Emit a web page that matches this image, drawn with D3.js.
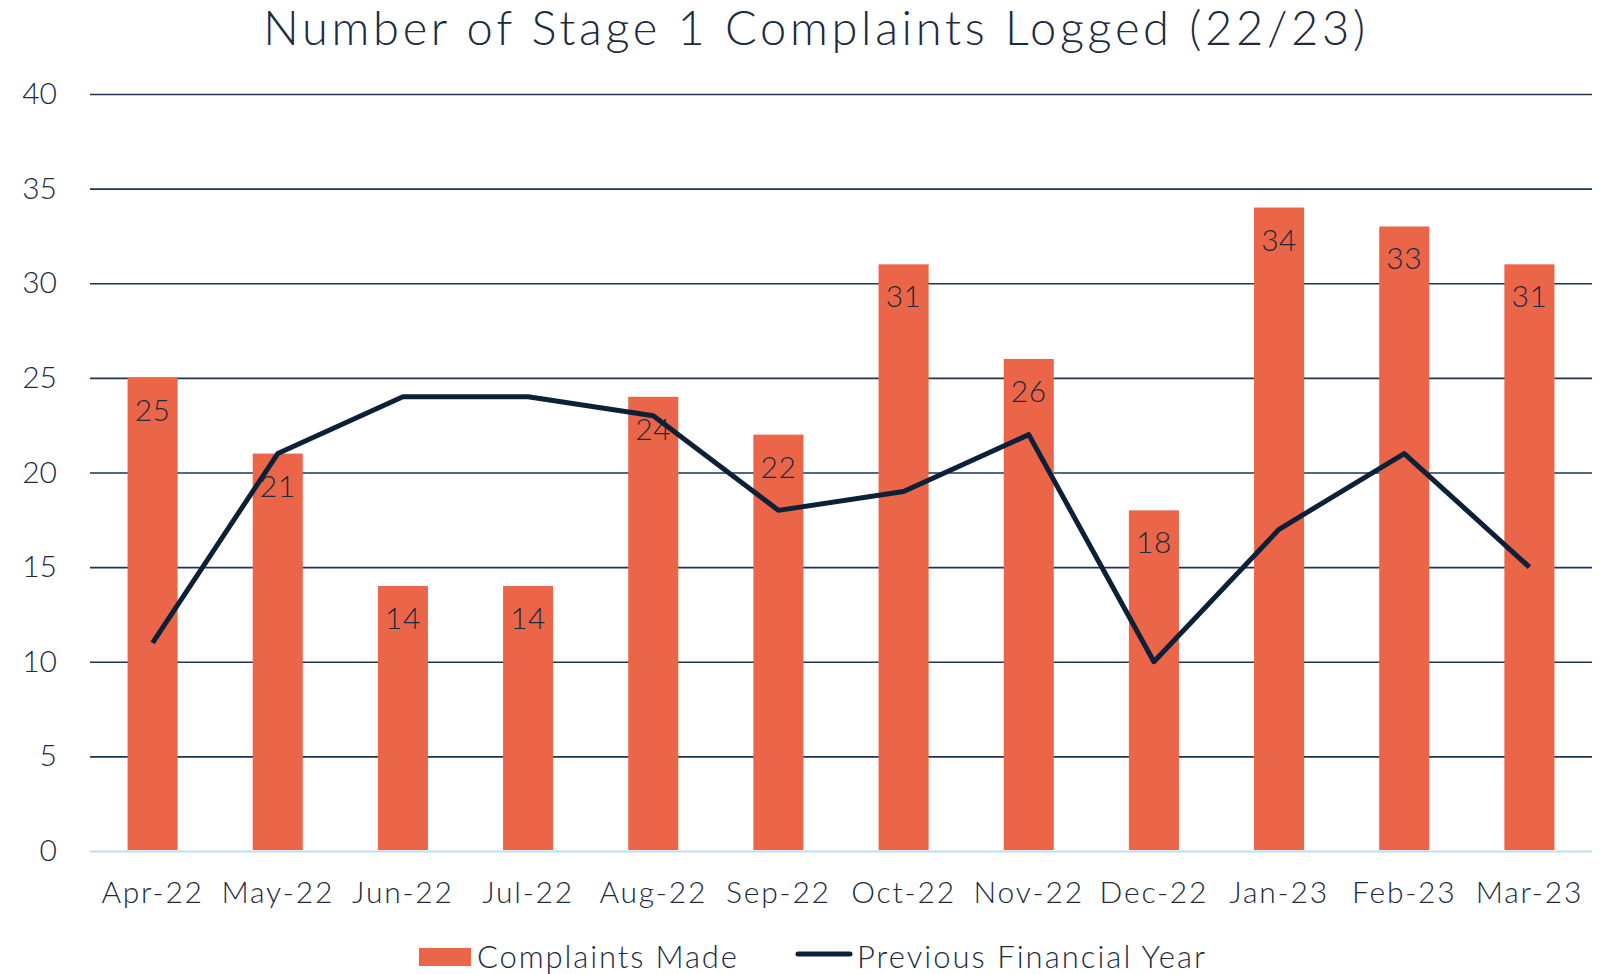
<!DOCTYPE html>
<html>
<head>
<meta charset="utf-8">
<script src="https://cdn.jsdelivr.net/npm/d3@7"></script>
<style>
  body { margin: 0; background: #fff; }
  text { font-family: Lato, "Noto Sans", sans-serif; font-weight: 300; fill: #1b2b40; }
</style>
</head>
<body>
<div id="chart"></div>
<script>
// chart data
const months = ["Apr-22", "May-22", "Jun-22", "Jul-22", "Aug-22", "Sep-22",
                "Oct-22", "Nov-22", "Dec-22", "Jan-23", "Feb-23", "Mar-23"];
const complaintsMade = [25, 21, 14, 14, 24, 22, 31, 26, 18, 34, 33, 31];
const previousYear = [11, 21, 24, 24, 23, 18, 19, 22, 10, 17, 21, 15];
const yTicks = [0, 5, 10, 15, 20, 25, 30, 35, 40];

const width = 1609, height = 974;
const margin = {left: 90, right: 17, top: 94, bottom: 123};
const barColor = "#eb6549", lineColor = "#0c2138";

const svg = d3.select("#chart").append("svg")
    .attr("width", width)
    .attr("height", height);

const x = d3.scaleBand()
    .domain(months)
    .range([margin.left, width - margin.right])
    .paddingInner(0.6)
    .paddingOuter(0.3);

const y = d3.scaleLinear()
    .domain([0, 40])
    .range([height - margin.bottom, margin.top]);

// title
svg.append("text")
    .attr("x", 816)
    .attr("y", 45)
    .attr("text-anchor", "middle")
    .style("font-size", "47px")
    .style("letter-spacing", "3.7px")
    .text("Number of Stage 1 Complaints Logged (22/23)");

// gridlines + y labels
const yAxis = svg.append("g")
    .attr("transform", "translate(" + margin.left + ",0)")
    .call(d3.axisLeft(y).tickValues(yTicks).tickSize(-(width - margin.left - margin.right)).tickPadding(33));
yAxis.select(".domain").remove();
yAxis.selectAll(".tick line")
    .attr("stroke", d => d === 0 ? "#bfdcf3" : "#1d3550")
    .attr("stroke-width", d => d === 0 ? 2 : 1.6);
yAxis.selectAll(".tick text")
    .style("font-size", "30px")
    .style("font-family", null)
    .attr("fill", null);

// bars
svg.append("g").selectAll("rect")
    .data(complaintsMade)
    .join("rect")
    .attr("x", (d, i) => x(months[i]))
    .attr("y", d => y(d))
    .attr("width", x.bandwidth())
    .attr("height", d => y(0) - y(d) - 1)
    .attr("fill", barColor);

// bar labels
svg.append("g").selectAll("text")
    .data(complaintsMade)
    .join("text")
    .attr("x", (d, i) => x(months[i]) + x.bandwidth() / 2)
    .attr("y", d => y(d) + 43)
    .attr("text-anchor", "middle")
    .style("font-size", "30px")
    .style("letter-spacing", "0.5px")
    .text(d => d);

// previous year line
const line = d3.line()
    .x((d, i) => x(months[i]) + x.bandwidth() / 2)
    .y(d => y(d));
svg.append("path")
    .datum(previousYear)
    .attr("d", line)
    .attr("fill", "none")
    .attr("stroke", lineColor)
    .attr("stroke-width", 5)
    .attr("stroke-linejoin", "round");

// x labels
const xAxis = svg.append("g")
    .attr("transform", "translate(0," + y(0) + ")")
    .call(d3.axisBottom(x).tickSize(0).tickPadding(31));
xAxis.select(".domain").remove();
xAxis.selectAll(".tick text")
    .style("font-size", "30px")
    .style("font-family", null)
    .style("letter-spacing", "1.8px")
    .attr("fill", null)
    .attr("dy", "0.71em");

// legend
const legend = svg.append("g");
legend.append("rect")
    .attr("x", 419).attr("y", 948)
    .attr("width", 52).attr("height", 18)
    .attr("fill", barColor);
legend.append("text")
    .attr("x", 477).attr("y", 968)
    .style("font-size", "31px")
    .attr("textLength", 260)
    .attr("lengthAdjust", "spacing")
    .text("Complaints Made");
legend.append("line")
    .attr("x1", 798).attr("x2", 850)
    .attr("y1", 954).attr("y2", 954)
    .attr("stroke", lineColor)
    .attr("stroke-width", 5)
    .attr("stroke-linecap", "round");
legend.append("text")
    .attr("x", 857).attr("y", 968)
    .style("font-size", "31px")
    .attr("textLength", 348)
    .attr("lengthAdjust", "spacing")
    .text("Previous Financial Year");
</script>
</body>
</html>
